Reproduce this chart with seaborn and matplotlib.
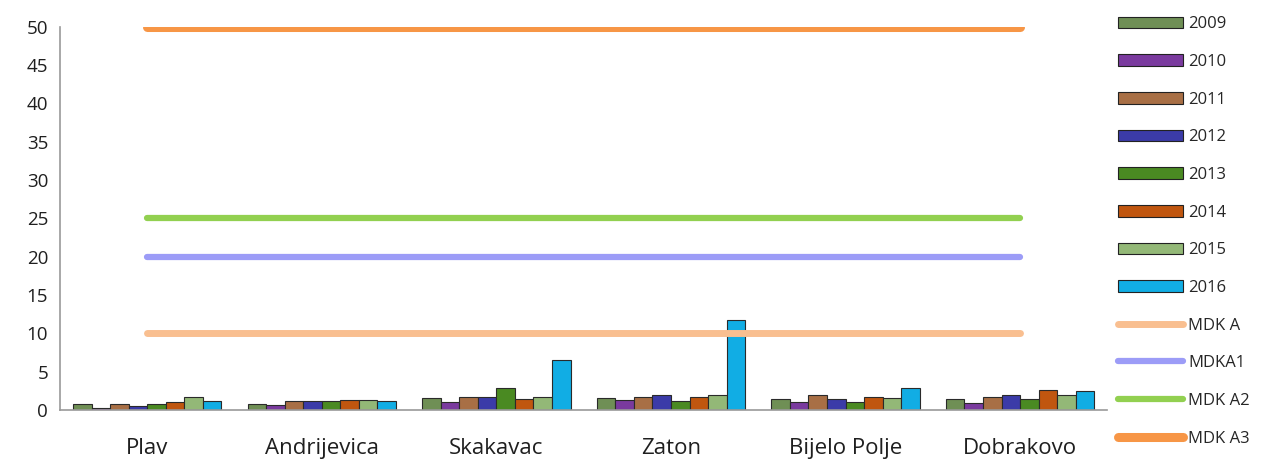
import numpy as np
import pandas as pd
import seaborn as sns
import matplotlib.pyplot as plt
from matplotlib.patches import Patch
from matplotlib.lines import Line2D
from matplotlib.ticker import FixedLocator

sites = ['Plav', 'Andrijevica', 'Skakavac', 'Zaton', 'Bijelo Polje', 'Dobrakovo']
years = ['2009', '2010', '2011', '2012', '2013', '2014', '2015', '2016']

# values per year, one entry per site
v2009 = [0.8, 0.8, 1.5, 1.5, 1.4, 1.45]
v2010 = [0.2, 0.6, 1.05, 1.3, 1.0, 0.95]
v2011 = [0.8, 1.1, 1.65, 1.7, 1.95, 1.65]
v2012 = [0.45, 1.1, 1.65, 2.0, 1.4, 2.0]
v2013 = [0.8, 1.1, 2.85, 1.1, 1.0, 1.4]
v2014 = [1.0, 1.25, 1.4, 1.7, 1.65, 2.55]
v2015 = [1.7, 1.3, 1.7, 2.0, 1.6, 1.9]
v2016 = [1.2, 1.15, 6.45, 11.7, 2.8, 2.4]

limit_names = ['MDK A', 'MDKA1', 'MDK A2', 'MDK A3']
limit_values = [10, 20, 25, 50]

bar_colors = ['#6f8f55', '#7a3a9e', '#a86f45', '#3b3ba8', '#4a8a22', '#c0560f', '#93b877', '#11ade4']
line_colors = ['#f9bf90', '#9c9cf7', '#92d050', '#f79646']
line_widths = [5, 4.5, 4.5, 6.5]

series = [v2009, v2010, v2011, v2012, v2013, v2014, v2015, v2016]
rows = []
for y, vals in zip(years, series):
    for s, v in zip(sites, vals):
        rows.append({'site': s, 'year': y, 'value': v})
df = pd.DataFrame(rows)

sns.set_style('white')
plt.rcParams['font.family'] = ['Open Sans', 'DejaVu Sans']

fig = plt.figure(figsize=(12.62, 4.59), dpi=100)
ax = fig.add_axes([0.0475, 0.107, 0.83, 0.835])

sns.barplot(data=df, x='site', y='value', hue='year', order=sites, hue_order=years,
            palette=bar_colors, saturation=1, width=0.85, edgecolor='#2a2a2a',
            linewidth=0.8, legend=False, ax=ax)

for name, val, c, lw in zip(limit_names, limit_values, line_colors, line_widths):
    sns.lineplot(x=sites, y=[val] * len(sites), color=c, linewidth=lw,
                 solid_capstyle='round', ax=ax)

ax.set_ylim(0, 50)
ax.set_xlim(-0.5, len(sites) - 0.5)
ax.set_yticks(range(0, 51, 5))
ax.set_xlabel('')
ax.set_ylabel('')
ax.tick_params(axis='x', which='major', length=0, labelsize=16, pad=20, colors='#1f1f1f')
ax.tick_params(axis='y', which='major', length=5, width=1, labelsize=13.5,
               direction='out', colors='#999999', labelcolor='#1f1f1f')
ax.xaxis.set_minor_locator(FixedLocator(np.arange(-0.5, len(sites), 1.0)))
ax.tick_params(axis='x', which='minor', length=7, width=1, color='#999999', direction='out')
for sp in ['top', 'right']:
    ax.spines[sp].set_visible(False)
for sp in ['left', 'bottom']:
    ax.spines[sp].set_color('#999999')
    ax.spines[sp].set_linewidth(1.2)

handles = [Patch(facecolor=c, edgecolor='#222222', linewidth=0.8) for c in bar_colors]
handles += [Line2D([0], [0], color=c, linewidth=lw, solid_capstyle='round')
            for c, lw in zip(line_colors, line_widths)]
labels = years + limit_names
fig.legend(handles, labels, loc='upper left', bbox_to_anchor=(0.877, 0.99),
           frameon=False, fontsize=12, handlelength=3.9, handleheight=0.7,
           handletextpad=0.3, labelspacing=1.3, borderaxespad=0.3)

fig.savefig('out.png', dpi=100)
